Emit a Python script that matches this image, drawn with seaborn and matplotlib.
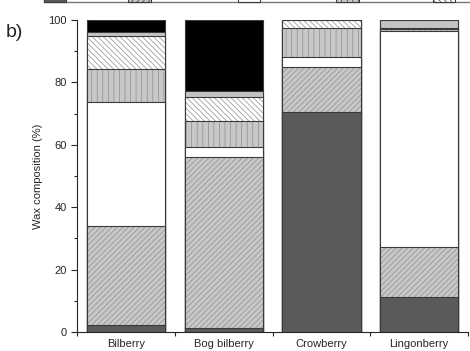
import numpy as np
import pandas as pd
import matplotlib
matplotlib.use('Agg')
import matplotlib.pyplot as plt
import seaborn as sns
from matplotlib.patches import Patch
from matplotlib.ticker import MultipleLocator, FixedLocator

# berries on the x axis
berries = ['Bilberry', 'Bog bilberry', 'Crowberry', 'Lingonberry']

# wax classes, bottom to top of each stack (legend text is cut off in the source)
classes = ['Alkanes', 'Triterpenoids', 'Fatty acids', 'Aldehydes',
           'Alcohols', 'Ketones', 'Other compounds']

# percentages, one list per class (same order as berries)
alkanes = [2.3, 1.2, 70.6, 11.3]
triterpenoids = [31.7, 54.8, 14.2, 15.8]
fatty_acids = [39.7, 3.2, 3.5, 69.5]
aldehydes = [10.5, 8.5, 9.1, 0.4]
alcohols = [10.7, 7.5, 2.6, 0.4]
ketones = [1.3, 2.1, 0.0, 2.6]
others = [3.8, 22.7, 0.0, 0.0]

values = [alkanes, triterpenoids, fatty_acids, aldehydes, alcohols, ketones, others]

# look of each segment
fills = ['#5a5a5a', '#c8c8c8', 'white', '#c8c8c8', 'white', '#c4c4c4', 'black']
hatches = ['', '//////', '', '|||', '\\\\\\\\\\\\', '', '']
hatch_col = '#8e8e8e'
edge_col = '#3a3a3a'

sns.set_style('ticks')
plt.rcParams['font.family'] = ['Liberation Sans', 'DejaVu Sans']
plt.rcParams['hatch.linewidth'] = 0.5

fig = plt.figure(figsize=(4.7, 3.51), dpi=100)
ax = fig.add_axes([0.164, 0.054, 0.832, 0.889])

df = pd.DataFrame(np.array(values).T, index=berries, columns=classes)
cum = df.cumsum(axis=1)

# draw tallest layer first, every lower layer paints over it
for i in range(len(classes) - 1, -1, -1):
    if hatches[i]:
        # hatch takes the edge colour, so fill with light edges then outline
        sns.barplot(x=berries, y=cum[classes[i]].values, ax=ax, color=fills[i],
                    edgecolor=hatch_col, linewidth=0, hatch=hatches[i],
                    saturation=1, width=0.8)
        sns.barplot(x=berries, y=cum[classes[i]].values, ax=ax, fill=False,
                    edgecolor=edge_col, linewidth=0.8, width=0.8)
    else:
        sns.barplot(x=berries, y=cum[classes[i]].values, ax=ax, color=fills[i],
                    edgecolor=edge_col, linewidth=0.8, saturation=1, width=0.8)

ax.set_xlim(-0.5, 3.5)
ax.set_ylim(0, 100)
ax.yaxis.set_major_locator(MultipleLocator(20))
ax.yaxis.set_minor_locator(MultipleLocator(10))
ax.xaxis.set_minor_locator(FixedLocator([-0.5, 0.5, 1.5, 2.5, 3.5]))
ax.tick_params(axis='x', which='major', length=0, labelsize=8, pad=5)
ax.tick_params(axis='x', which='minor', length=3, width=0.8)
ax.tick_params(axis='y', which='major', length=4, width=0.8, labelsize=8)
ax.tick_params(axis='y', which='minor', length=2.5, width=0.8)
ax.set_ylabel('Wax composition (%)', fontsize=8)
ax.set_xlabel('')
sns.despine(ax=ax)
for s in ['left', 'bottom']:
    ax.spines[s].set_linewidth(0.8)

# legend strip at the top, mostly cut off like the source
handles = [Patch(facecolor=fills[i], edgecolor=edge_col, hatch=hatches[i],
                 linewidth=0.8) for i in range(len(classes))]
fig.legend(handles, classes, ncol=7, loc='lower left',
           bbox_to_anchor=(0.093, 0.993), fontsize=8, frameon=True,
           edgecolor='#555555', fancybox=False, handlelength=2.0,
           handleheight=2.2, columnspacing=1.2, borderaxespad=0,
           borderpad=0.05)

fig.text(0.012, 0.895, 'b)', fontsize=14)

fig.savefig('out.png', dpi=100)
